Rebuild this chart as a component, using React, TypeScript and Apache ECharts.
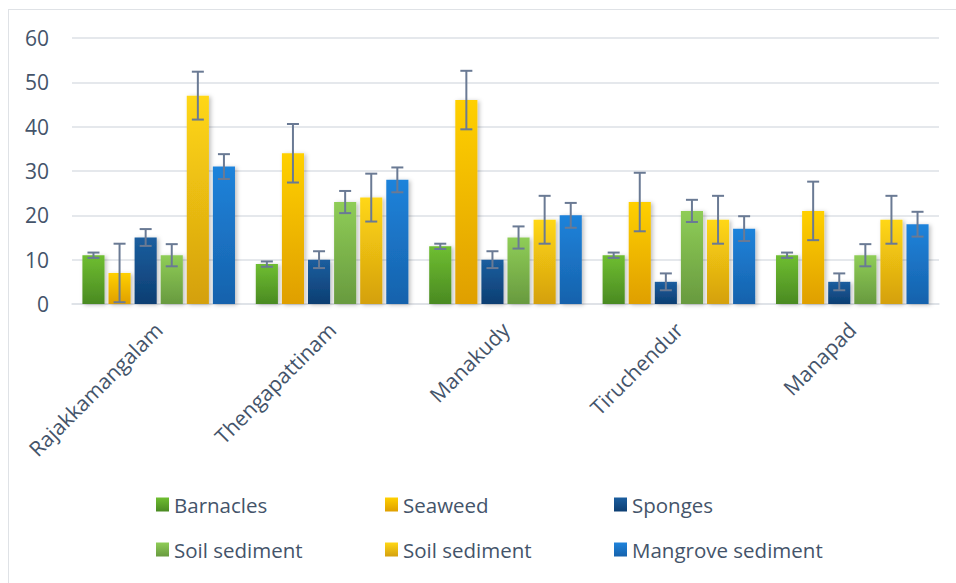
import React, { useEffect, useRef } from "react";
import * as echarts from "echarts";

const categories = ["Rajakkamangalam", "Thengapattinam", "Manakudy", "Tiruchendur", "Manapad"];
const seriesNames = ["Barnacles", "Seaweed", "Sponges", "Soil sediment", "Soil sediment ", "Mangrove sediment"];
const barnacles = [11, 9, 13, 11, 11];
const seaweed = [7, 34, 46, 23, 21];
const sponges = [15, 10, 10, 5, 5];
const soilSediment = [11, 23, 15, 21, 11];
const soilSediment2 = [47, 24, 19, 19, 19];
const mangroveSediment = [31, 28, 20, 17, 18];
const barnaclesErr = [0.6, 0.6, 0.6, 0.6, 0.6];
const seaweedErr = [6.6, 6.6, 6.6, 6.6, 6.6];
const spongesErr = [1.9, 1.9, 1.9, 1.9, 1.9];
const soilSedimentErr = [2.5, 2.5, 2.5, 2.5, 2.5];
const soilSediment2Err = [5.4, 5.4, 5.4, 5.4, 5.4];
const mangroveSedimentErr = [2.8, 2.8, 2.8, 2.8, 2.8];
const yTicks = [0, 10, 20, 30, 40, 50, 60];

const values = [barnacles, seaweed, sponges, soilSediment, soilSediment2, mangroveSediment];
const errors = [barnaclesErr, seaweedErr, spongesErr, soilSedimentErr, soilSediment2Err, mangroveSedimentErr];
const gradients = [
  ["#6fbe31", "#4a8a22"],
  ["#ffd000", "#df9f00"],
  ["#1b5e9f", "#0d3e72"],
  ["#8fcd57", "#689a3f"],
  ["#ffd714", "#d4a00f"],
  ["#1f83db", "#1662ac"],
];

const FONT = "'Open Sans', 'Noto Sans', sans-serif";
const TEXT = "#44546a";
const GAP_CAT = 0.12;
const GAP_BAR = 0.18;

export default function App() {
  const ref = useRef<HTMLDivElement>(null);
  useEffect(() => {
    if (!ref.current) return;
    const chart = echarts.init(ref.current, undefined, { renderer: "svg" });
    const n = seriesNames.length;
    const bars = seriesNames.map((name, k) => ({
      type: "bar",
      name,
      data: values[k],
      barGap: GAP_BAR * 100 + "%",
      barCategoryGap: GAP_CAT * 100 + "%",
      itemStyle: {
        color: new echarts.graphic.LinearGradient(0, 0, 0, 1, [
          { offset: 0, color: gradients[k][0] },
          { offset: 1, color: gradients[k][1] },
        ]),
        shadowColor: "rgba(0,0,0,0.25)",
        shadowBlur: 4,
        shadowOffsetX: 2,
        shadowOffsetY: 1,
      },
      z: 2,
    }));
    const errs = seriesNames.map((name, k) => ({
      type: "custom",
      name: "err-" + k,
      z: 5,
      encode: { x: 0, y: 1 },
      data: values[k].map((v, i) => [i, v, errors[k][i]]),
      renderItem: (params: any, api: any) => {
        const ci = api.value(0);
        const v = api.value(1);
        const e = api.value(2);
        const band = api.size([1, 0])[0];
        const usable = band * (1 - GAP_CAT);
        const bw = usable / (n + (n - 1) * GAP_BAR);
        const center = api.coord([ci, v]);
        const x = center[0] - usable / 2 + k * bw * (1 + GAP_BAR) + bw / 2;
        const yTop = api.coord([ci, v + e])[1];
        const yBot = api.coord([ci, Math.max(0, v - e)])[1];
        const cap = 6;
        const style = { stroke: "#6a7a94", lineWidth: 2 };
        return {
          type: "group",
          children: [
            { type: "line", shape: { x1: x, y1: yTop, x2: x, y2: yBot }, style },
            { type: "line", shape: { x1: x - cap, y1: yTop, x2: x + cap, y2: yTop }, style },
            { type: "line", shape: { x1: x - cap, y1: yBot, x2: x + cap, y2: yBot }, style },
          ],
        };
      },
    }));
    const legendBase = {
      orient: "horizontal",
      icon: "rect",
      itemWidth: 13,
      itemHeight: 14,
      itemGap: 22,
      formatter: (name: string) => name.trim(),
      textStyle: { fontFamily: FONT, fontSize: 20.5, color: TEXT, width: 189, lineHeight: 20 },
    };
    chart.setOption({
      animation: false,
      grid: { left: 63, right: 17, top: 28, bottom: 279, containLabel: false },
      legend: [
        { ...legendBase, left: 142, top: 479, data: seriesNames.slice(0, 3) },
        { ...legendBase, left: 142, top: 524, data: seriesNames.slice(3, 6) },
      ],
      xAxis: {
        type: "category",
        data: categories,
        axisLine: { show: true, lineStyle: { color: "#dde1e6", width: 1.5 } },
        axisTick: { show: false },
        axisLabel: { rotate: 45, margin: 22, fontFamily: FONT, fontSize: 21, color: TEXT, interval: 0 },
      },
      yAxis: {
        type: "value",
        min: yTicks[0],
        max: yTicks[yTicks.length - 1],
        interval: yTicks[1] - yTicks[0],
        axisLine: { show: false },
        axisTick: { show: false },
        axisLabel: { margin: 23, fontFamily: FONT, fontSize: 21, color: TEXT },
        splitLine: { lineStyle: { color: "#dde1e6", width: 1.5 } },
      },
      series: [...bars, ...errs],
    });
    return () => chart.dispose();
  }, []);
  return (
    <div
      style={{
        position: "absolute",
        left: 8,
        top: 9,
        width: 948,
        height: 574,
        boxSizing: "border-box",
        borderTop: "1px solid #dfe2e6",
        borderLeft: "1px solid #dfe2e6",
        overflow: "hidden",
      }}
    >
      <div ref={ref} style={{ width: 947, height: 573 }} />
    </div>
  );
}
